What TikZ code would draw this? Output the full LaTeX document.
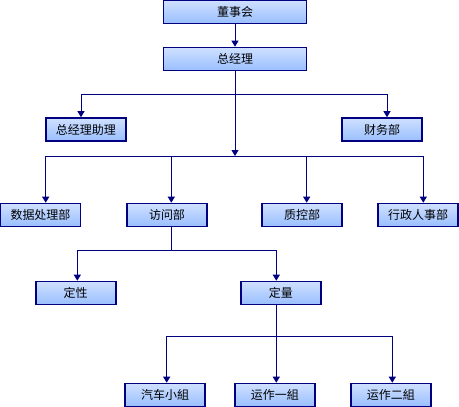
\documentclass[tikz,border=0pt]{standalone}
\usepackage{fontspec}
\setmainfont{Noto Sans CJK SC}
\usetikzlibrary{arrows.meta,calc}
\definecolor{navy}{HTML}{000080}
\definecolor{boxtop}{HTML}{CFE0FF}
\definecolor{boxbot}{HTML}{99BFFF}
\tikzset{
  orgbox/.style={draw=navy,line width=1.6pt,minimum width=80pt,minimum height=23pt,inner sep=0pt,
    top color=boxtop,middle color=white,bottom color=boxbot,font=\fontsize{12}{14}\selectfont},
  widebox/.style={orgbox,minimum width=143pt},
  link/.style={draw=navy,line width=1pt},
  hv/.style={to path={-| (\tikztotarget)}},
  every edge/.style={link,-{Triangle[width=7pt,length=6pt]}},
}
\begin{document}
\begin{tikzpicture}[x=1pt,y=1pt]
\useasboundingbox (0,0) rectangle (459,-407);

\node[widebox] (dsh) at (235,-12) {董事会};
\node[widebox] (zjl) at (235,-59) {总经理};
\node[orgbox] (zjlzl) at (86,-129.5) {总经理助理};
\node[orgbox] (cwb) at (382,-129.5) {财务部};
\node[orgbox] (sjcl) at (40.5,-215) {数据处理部};
\node[orgbox] (fwb) at (167,-215) {访问部};
\node[orgbox] (zkb) at (302,-215) {质控部};
\node[orgbox] (xzrs) at (418,-215) {行政人事部};
\node[orgbox] (dx) at (75.7,-293) {定性};
\node[orgbox] (dl) at (280.8,-293) {定量};
\node[orgbox] (qc) at (165,-395) {汽车小組};
\node[orgbox] (yz1) at (274.8,-395) {运作一組};
\node[orgbox] (yz2) at (390.8,-395) {运作二組};

% junctions of the buses
\coordinate (j1) at (235,-94);
\coordinate (j2) at (235,-156);
\coordinate (j3) at (171,-250);
\coordinate (j4) at (276.3,-336);

\draw[link] ([xshift=4pt]fwb.south) -- (j3);
\draw[link] ([xshift=-4.5pt]dl.south) -- (j4);

\path
(dsh) edge (zjl)
(zjl) edge (j2)
(j1) edge[hv] ([xshift=-5pt]zjlzl.north)
(j1) edge[hv] ([xshift=5pt]cwb.north)
(j2) edge[hv] ([xshift=5.2pt]sjcl.north)
(j2) edge[hv] ([xshift=4.3pt]fwb.north)
(j2) edge[hv] ([xshift=4.7pt]zkb.north)
(j2) edge[hv] ([xshift=5.3pt]xzrs.north)
(j3) edge[hv] ([xshift=1.6pt]dx.north)
(j3) edge[hv] ([xshift=-4.5pt]dl.north)
(j4) edge[hv] ([xshift=1.7pt]qc.north)
(j4) edge (yz1.north -| j4)
(j4) edge[hv] ([xshift=1.5pt]yz2.north);

\end{tikzpicture}
\end{document}
